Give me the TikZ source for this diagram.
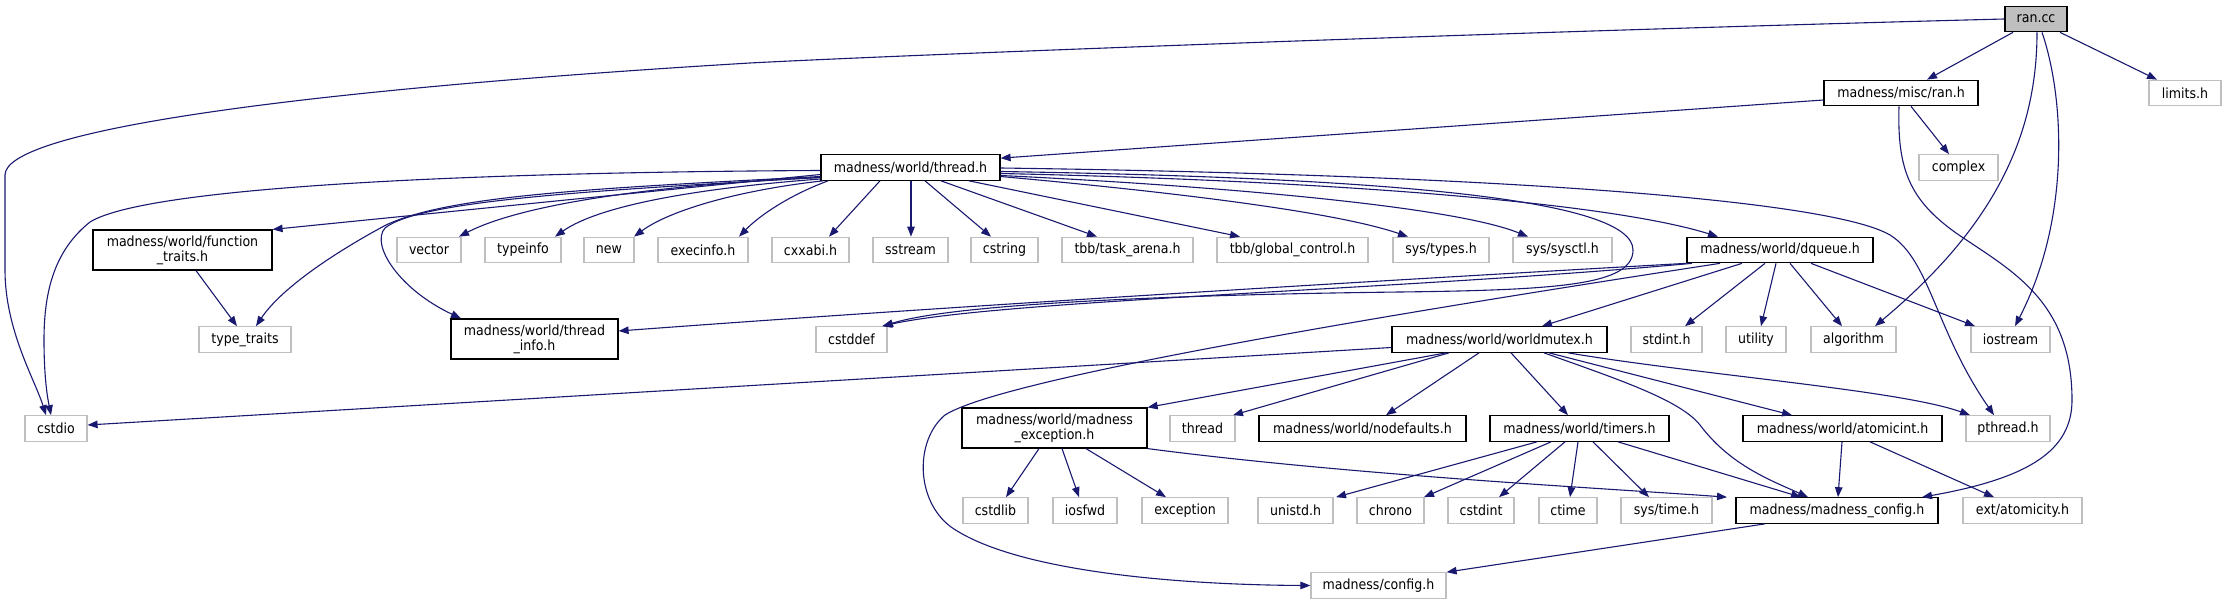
\documentclass[tikz,border=0pt]{standalone}
\usepackage{fontspec}
\setmainfont{DejaVu Sans Condensed}
\usetikzlibrary{arrows.meta}
\definecolor{edgeblue}{HTML}{191970}
\definecolor{graybox}{HTML}{BFBFBF}
\begin{document}
\begin{tikzpicture}[x=1pt,y=-1pt,
  nd/.style={draw=black,line width=1.2pt,inner sep=0pt,minimum height=25.5pt,font=\fontsize{14}{15}\selectfont,align=center},
  gn/.style={nd,draw=graybox},
  e/.style={draw=edgeblue,line width=1.1pt,-{Triangle[length=10pt,width=7.5pt]}}]
\useasboundingbox (0,0) rectangle (2226,604);
% nodes
\node[nd,fill=graybox,minimum width=62] (ran) at (2036,19) {ran.cc};
\node[nd,minimum width=154] (ranh) at (1901,93) {madness/misc/ran.h};
\node[gn,minimum width=72] (limits) at (2185,93) {limits.h};
\node[gn,minimum width=79] (complex) at (1958.5,167.5) {complex};
\node[nd,minimum width=179] (thread) at (910.5,167.5) {madness/world/thread.h};
\node[nd,minimum width=179,minimum height=40] (funtr) at (182.5,250) {madness/world/function\\\_traits.h};
\node[gn,minimum width=64] (vector) at (429,250) {vector};
\node[gn,minimum width=76] (typeinfo) at (523,250) {typeinfo};
\node[gn,minimum width=50] (new) at (609,250) {new};
\node[gn,minimum width=90] (execinfo) at (703,250) {execinfo.h};
\node[gn,minimum width=77] (cxxabi) at (810.5,250) {cxxabi.h};
\node[gn,minimum width=75] (sstream) at (910.5,250) {sstream};
\node[gn,minimum width=67] (cstring) at (1004.5,250) {cstring};
\node[gn,minimum width=131] (taskarena) at (1127.5,250) {tbb/task\_arena.h};
\node[gn,minimum width=151] (globalctl) at (1292.5,250) {tbb/global\_control.h};
\node[gn,minimum width=96] (systypes) at (1441,250) {sys/types.h};
\node[gn,minimum width=99] (syssysctl) at (1562.5,250) {sys/sysctl.h};
\node[nd,minimum width=186] (dqueue) at (1780,250) {madness/world/dqueue.h};
\node[gn,minimum width=92] (typetr) at (245,339.5) {type\_traits};
\node[nd,minimum width=167,minimum height=40] (thinfo) at (534.5,339) {madness/world/thread\\\_info.h};
\node[gn,minimum width=71] (cstddef) at (851.5,339.5) {cstddef};
\node[nd,minimum width=215] (wm) at (1499.5,339.5) {madness/world/worldmutex.h};
\node[gn,minimum width=71] (stdint) at (1666.5,339.5) {stdint.h};
\node[gn,minimum width=60] (utility) at (1756,339.5) {utility};
\node[gn,minimum width=85] (algorithm) at (1853.5,339.5) {algorithm};
\node[gn,minimum width=79] (iostream) at (2010.5,339.5) {iostream};
\node[gn,minimum width=62] (cstdio) at (56,428.5) {cstdio};
\node[nd,minimum width=185,minimum height=40] (madexc) at (1054.5,428) {madness/world/madness\\\_exception.h};
\node[gn,minimum width=65] (thr) at (1202.5,428.5) {thread};
\node[nd,minimum width=207] (nodef) at (1362.5,428.5) {madness/world/nodefaults.h};
\node[nd,minimum width=179] (timers) at (1579.5,428.5) {madness/world/timers.h};
\node[nd,minimum width=199] (atomicint) at (1842.5,428.5) {madness/world/atomicint.h};
\node[gn,minimum width=84] (pthread) at (2008,428.5) {pthread.h};
\node[gn,minimum width=65] (cstdlib) at (995.5,510.5) {cstdlib};
\node[gn,minimum width=64] (iosfwd) at (1085,510.5) {iosfwd};
\node[gn,minimum width=86] (exception) at (1185,510.5) {exception};
\node[gn,minimum width=75] (unistd) at (1295.5,510.5) {unistd.h};
\node[gn,minimum width=67] (chrono) at (1390.5,510.5) {chrono};
\node[gn,minimum width=66] (cstdint) at (1481,510.5) {cstdint};
\node[gn,minimum width=58] (ctime) at (1568,510.5) {ctime};
\node[gn,minimum width=91] (systime) at (1666.5,510.5) {sys/time.h};
\node[nd,minimum width=202] (madcfg) at (1837,510.5) {madness/madness\_config.h};
\node[gn,minimum width=119] (atomicity) at (2022.5,510.5) {ext/atomicity.h};
\node[gn,minimum width=135] (config) at (1378.5,585.5) {madness/config.h};
% edges from ran.cc
\draw[e] (2013,0 |- ran.south) -- (1927,0 |- ranh.north);
\draw[e] (2060,0 |- ran.south) -- (2157,0 |- limits.north);
\draw[e] (2037,0 |- ran.south) .. controls (2037,140) and (1990,230) .. (1875,0 |- algorithm.north);
\draw[e] (2042,0 |- ran.south) .. controls (2065,100) and (2070,220) .. (2015,0 |- iostream.north);
\draw[e] (ran.west) .. controls (1500,32) and (900,55) .. (750,63) .. controls (300,90) and (5,130) .. (5,175) -- (5,270) .. controls (5,330) and (35,380) .. (46,0 |- cstdio.north);
% ran.h
\draw[e] ([yshift=-7]ranh.west) -- ([yshift=-4]thread.north east);
\draw[e] (1911,0 |- ranh.south) -- (1949,0 |- complex.north);
\draw[e] (1899,0 |- ranh.south) .. controls (1897,170) and (1910,200) .. (1956,233) .. controls (2010,270) and (2072,300) .. (2072,400) .. controls (2072,450) and (2030,478) .. (1922,0 |- madcfg.north);
% thread.h
\draw[e] ([yshift=-3]thread.west) .. controls (500,172) and (150,185) .. (90,222) .. controls (55,250) and (44,290) .. (44,340) .. controls (44,380) and (48,400) .. (51,0 |- cstdio.north);
\draw[e] ([yshift=-7]thread.west) -- (funtr.north east);
\draw[e] ([yshift=-9]thread.west) .. controls (600,188) and (450,195) .. (386,225) .. controls (330,255) and (280,290) .. (256,0 |- typetr.north);
\draw[e] ([yshift=-10]thread.west) .. controls (600,190) and (420,200) .. (385,228) .. controls (370,245) and (400,290) .. (461,0 |- thinfo.north);
\draw[e] ([yshift=-10]thread.west) .. controls (650,185) and (520,205) .. (459,0 |- vector.north);
\draw[e] ([yshift=-11.5]thread.west) .. controls (700,188) and (600,205) .. (555,0 |- typeinfo.north);
\draw[e] (823,0 |- thread.south) .. controls (740,190) and (670,210) .. (634,0 |- new.north);
\draw[e] (828,0 |- thread.south) .. controls (790,195) and (760,215) .. (739,0 |- execinfo.north);
\draw[e] (880,0 |- thread.south) -- (829,0 |- cxxabi.north);
\draw[e] (911,0 |- thread.south) -- (911,0 |- sstream.north);
\draw[e] (925,0 |- thread.south) -- (991,0 |- cstring.north);
\draw[e] (941,0 |- thread.south) -- (1097,0 |- taskarena.north);
\draw[e] (969,0 |- thread.south) -- (1240,0 |- globalctl.north);
\draw[e] ([yshift=-9]thread.east) .. controls (1150,190) and (1330,210) .. (1408,0 |- systypes.north);
\draw[e] ([yshift=-8]thread.east) .. controls (1200,185) and (1450,205) .. (1528,0 |- syssysctl.north);
\draw[e] ([yshift=-6]thread.east) .. controls (1300,180) and (1600,200) .. (1718,0 |- dqueue.north);
\draw[e] ([yshift=-4]thread.east) .. controls (1400,178) and (1633,200) .. (1633,250) .. controls (1633,285) and (1560,290) .. (1400,292) .. controls (1150,295) and (950,305) .. (883,0 |- cstddef.north);
\draw[e] ([yshift=-0.5]thread.east) .. controls (1500,175) and (1830,200) .. (1890,235) .. controls (1930,260) and (1935,330) .. (1994,0 |- pthread.north);
% function_traits
\draw[e] (196,0 |- funtr.south) -- (237,0 |- typetr.north);
% dqueue
\draw[e] (dqueue.south west) .. controls (1300,285) and (900,310) .. ([yshift=8]thinfo.east);
\draw[e] (1692,0 |- dqueue.south) .. controls (1400,290) and (1000,300) .. (882,0 |- cstddef.north);
\draw[e] (1742,0 |- dqueue.south) -- (1542,0 |- wm.north);
\draw[e] (1765,0 |- dqueue.south) -- (1685,0 |- stdint.north);
\draw[e] (1776,0 |- dqueue.south) -- (1761,0 |- utility.north);
\draw[e] (1790,0 |- dqueue.south) -- (1842,0 |- algorithm.north);
\draw[e] (1811,0 |- dqueue.south) -- (1975,0 |- iostream.north);
\draw[e] (1720,0 |- dqueue.south) .. controls (1350,320) and (1000,380) .. (945,415) .. controls (915,440) and (915,500) .. (951,527) .. controls (1020,575) and (1200,585) .. (config.west);
% worldmutex
\draw[e] ([yshift=-8]wm.west) -- ([yshift=3.5]cstdio.east);
\draw[e] (1446,0 |- wm.south) -- (madexc.north east);
\draw[e] (1449,0 |- wm.south) -- (1233,0 |- thr.north);
\draw[e] (1479,0 |- wm.south) -- (1386,0 |- nodef.north);
\draw[e] (1511,0 |- wm.south) -- (1568,0 |- timers.north);
\draw[e] (1549,0 |- wm.south) -- (1792,0 |- atomicint.north);
\draw[e] (1568,0 |- wm.south) .. controls (1700,375) and (1900,390) .. (1970,0 |- pthread.north);
\draw[e] (1544,0 |- wm.south) .. controls (1620,380) and (1680,400) .. (1700,425) .. controls (1730,465) and (1770,480) .. (1808,0 |- madcfg.north);
% madness_exception
\draw[e] (1039,0 |- madexc.south) -- (1006,0 |- cstdlib.north);
\draw[e] (1062,0 |- madexc.south) -- (1079,0 |- iosfwd.north);
\draw[e] (1086,0 |- madexc.south) -- (1166,0 |- exception.north);
\draw[e] (madexc.south east) .. controls (1350,475) and (1600,488) .. (1727,0 |- madcfg.north);
% timers
\draw[e] (1537,0 |- timers.south) -- (1336,0 |- unistd.north);
\draw[e] (1551,0 |- timers.south) -- (1424,0 |- chrono.north);
\draw[e] (1565,0 |- timers.south) -- (1499,0 |- cstdint.north);
\draw[e] (1578,0 |- timers.south) -- (1570,0 |- ctime.north);
\draw[e] (1593,0 |- timers.south) -- (1649,0 |- systime.north);
\draw[e] (1618,0 |- timers.south) -- (1801,0 |- madcfg.north);
% atomicint
\draw[e] (1842,0 |- atomicint.south) -- (1838,0 |- madcfg.north);
\draw[e] (1870,0 |- atomicint.south) -- (1994,0 |- atomicity.north);
% madness_config
\draw[e] (1765,0 |- madcfg.south) -- (config.north east);
\end{tikzpicture}
\end{document}
